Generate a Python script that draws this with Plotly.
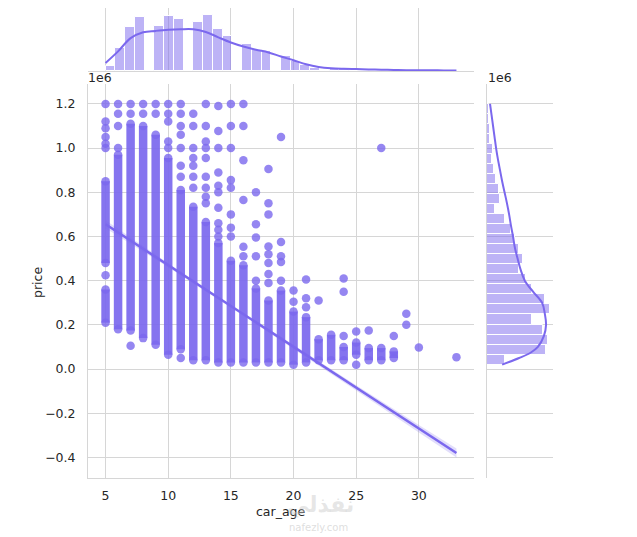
import numpy as np
import plotly.graph_objects as go

# seaborn jointplot(kind="reg") of car_age vs price

# top marginal: cars per car_age
ages = [5, 6, 7, 8, 9, 10, 11, 12, 13, 14, 15, 16, 17, 18, 19, 20, 21, 22, 23, 24,
        25, 26, 27, 28, 29, 30, 31, 32, 33]
age_counts = [20, 86, 162, 200, 168, 205, 195, 182, 208, 155, 129, 102, 79, 73, 56, 36,
              23, 13, 7, 6, 4, 3, 2, 2, 1, 1, 0, 0, 1]
# kde of car_age (scaled like the counts)
kde_age = [30, 73, 122, 144, 149, 153, 155, 155, 145, 125, 106, 91, 79, 69, 54, 40,
           25, 15, 10, 8, 7, 6, 5, 4, 3, 3, 3, 2, 2]

# right marginal: cars per price bin (26 bins between min and max price)
price_min = 20000
price_max = 1200000
price_counts = [59, 195, 201, 185, 149, 208, 191, 149, 129, 106, 119, 106, 92, 79, 59,
                26, 43, 40, 30, 23, 17, 20, 10, 10, 7, 7]
# kde of price
kde_price_x = [20000, 50000, 75000, 100000, 150000, 200000, 250000, 300000, 350000,
               400000, 450000, 500000, 550000, 600000, 650000, 700000, 750000, 800000,
               850000, 900000, 950000, 1000000, 1050000, 1100000, 1150000, 1200000]
kde_price_y = [50, 106, 145, 168, 188, 195, 191, 182, 152, 125, 111, 101, 92, 86, 79,
               73, 66, 58, 50, 43, 36, 30, 25, 20, 15, 10]

# scatter: solid runs of overlapping points in each age column
seg_age = [5, 5, 6, 7, 8, 9, 10, 11, 12, 13, 14, 15, 16, 17, 18, 19, 20, 21, 22, 23,
           24, 25, 26, 27, 28]
seg_low = [480000, 210000, 180000, 175000, 140000, 110000, 65000, 90000, 40000, 40000,
           30000, 30000, 30000, 30000, 30000, 30000, 20000, 30000, 40000, 40000,
           40000, 65000, 40000, 40000, 50000]
seg_high = [850000, 360000, 970000, 1110000, 1100000, 1060000, 955000, 810000, 735000,
            665000, 570000, 490000, 470000, 365000, 310000, 355000, 260000, 235000,
            135000, 155000, 100000, 120000, 95000, 95000, 80000]

# scatter: single points
pt_age = [5, 5, 5, 5, 5, 5, 5,
          6, 6, 6, 6,
          7, 7, 7,
          8, 8,
          9, 9,
          10, 10, 10, 10, 10,
          11, 11, 11, 11, 11, 11, 11, 11,
          12, 12, 12, 12, 12, 12, 12,
          13, 13, 13, 13, 13, 13, 13, 13, 13,
          14, 14, 14, 14, 14, 14, 14, 14, 14, 14,
          15, 15, 15, 15, 15, 15, 15, 15,
          16, 16, 16, 16, 16, 16,
          17, 17, 17, 17, 17,
          18, 18, 18, 18, 18, 18, 18, 18,
          19, 19, 19, 19, 19,
          20, 20,
          21, 21, 21,
          22,
          24, 24, 24,
          25, 25,
          26, 27, 28, 29, 29, 30, 33]
pt_price = [1200000, 1120000, 1090000, 1050000, 1020000, 1000000, 425000,
            1200000, 1155000, 1100000, 1000000,
            1200000, 1155000, 105000,
            1200000, 1155000,
            1200000, 1155000,
            1200000, 1155000, 1120000, 1030000, 1000000,
            1200000, 1155000, 1100000, 1060000, 1000000, 920000, 870000, 50000,
            1155000, 1100000, 1000000, 955000, 920000, 870000, 820000,
            1200000, 1100000, 1030000, 1000000, 955000, 870000, 820000, 780000, 750000,
            1190000, 1077000, 1000000, 890000, 830000, 800000, 730000, 660000, 630000, 600000,
            1200000, 1100000, 1000000, 855000, 820000, 700000, 640000, 600000,
            1200000, 1100000, 945000, 765000, 553000, 510000,
            800000, 655000, 595000, 510000, 400000,
            905000, 750000, 700000, 555000, 520000, 480000, 430000, 390000,
            1050000, 575000, 510000, 485000, 400000,
            355000, 305000,
            405000, 320000, 280000,
            310000,
            410000, 350000, 150000,
            170000, 20000,
            175000, 1000000, 150000, 250000, 200000, 98000, 54000]

# fitted regression line and half width of its confidence band
reg_x = [5, 10, 15, 20, 25, 30, 33]
reg_y = [655000, 470000, 285000, 100000, -85000, -270000, -380000]
reg_ci = [18000, 9000, 6000, 8000, 12000, 17000, 20000]

y_ticks = [-400000, -200000, 0, 200000, 400000, 600000, 800000, 1000000, 1200000]
y_tick_labels = ["\u22120.4", "\u22120.2", "0.0", "0.2", "0.4", "0.6", "0.8", "1.0", "1.2"]
x_ticks = [5, 10, 15, 20, 25, 30]

color = "#7B68EE"
grid = "#d6d6d6"
font = dict(family="DejaVu Sans", size=12.5, color="#262626")

# the page body has an 8px margin, so the figure starts at (8, 8) of the window
OFF = 8
W, H = 637 - OFF, 537 - OFF


def px_x(p):
    return (p - OFF) / W


def px_y(p):
    return (H - (p - OFF)) / H


fig = go.Figure()

# --- top histogram + kde
age_edges = np.linspace(5, 33, 37)
age_hist, _ = np.histogram(ages, bins=age_edges, weights=age_counts)
fig.add_trace(go.Bar(
    x=(age_edges[:-1] + age_edges[1:]) / 2, y=age_hist, width=age_edges[1] - age_edges[0],
    marker=dict(color="rgba(123,104,238,0.5)", line=dict(color="white", width=1)),
    xaxis="x2", yaxis="y2", hoverinfo="skip"))
fig.add_trace(go.Scatter(x=ages, y=kde_age, mode="lines", line=dict(color=color, width=2, shape="spline"),
                         xaxis="x2", yaxis="y2"))

# --- right histogram + kde
price_edges = np.linspace(price_min, price_max, len(price_counts) + 1)
fig.add_trace(go.Bar(
    y=(price_edges[:-1] + price_edges[1:]) / 2, x=price_counts, width=price_edges[1] - price_edges[0],
    orientation="h",
    marker=dict(color="rgba(123,104,238,0.5)", line=dict(color="white", width=1)),
    xaxis="x3", yaxis="y3", hoverinfo="skip"))
fig.add_trace(go.Scatter(x=kde_price_y, y=kde_price_x, mode="lines",
                         line=dict(color=color, width=2, shape="spline"),
                         xaxis="x3", yaxis="y3"))

# --- scatter
seg_x, seg_y = [], []
for a, lo, hi in zip(seg_age, seg_low, seg_high):
    seg_x += [a, a, None]
    seg_y += [lo, hi, None]
fig.add_trace(go.Scatter(x=seg_x, y=seg_y, mode="lines",
                         line=dict(color="rgba(123,104,238,0.92)", width=8.5)))
fig.add_trace(go.Scatter(x=seg_age + seg_age, y=seg_low + seg_high, mode="markers",
                         marker=dict(color="rgba(123,104,238,0.8)", size=8.5, line=dict(width=0))))
fig.add_trace(go.Scatter(x=pt_age, y=pt_price, mode="markers",
                         marker=dict(color="rgba(123,104,238,0.8)", size=8.5, line=dict(width=0))))

# --- regression line with ci band
ci_lo = [y - c for y, c in zip(reg_y, reg_ci)]
ci_hi = [y + c for y, c in zip(reg_y, reg_ci)]
fig.add_trace(go.Scatter(x=reg_x, y=ci_lo, mode="lines", line=dict(width=0), hoverinfo="skip"))
fig.add_trace(go.Scatter(x=reg_x, y=ci_hi, mode="lines", line=dict(width=0), fill="tonexty",
                         fillcolor="rgba(123,104,238,0.22)", hoverinfo="skip"))
fig.add_trace(go.Scatter(x=reg_x, y=reg_y, mode="lines", line=dict(color=color, width=2.5)))

# pixel boxes of the three panels (window pixels)
main_x = [px_x(88), px_x(474)]
main_y = [px_y(478), px_y(84)]
top_y = [px_y(71), 1.0]
right_x = [px_x(487), px_x(553)]

fig.update_layout(
    width=W, height=H, showlegend=False,
    margin=dict(l=0, r=0, t=0, b=0),
    paper_bgcolor="white", plot_bgcolor="white",
    font=font, bargap=0,
    xaxis=dict(domain=main_x, range=[3.6, 34.4], tickvals=x_ticks, showgrid=True, gridcolor=grid,
               zeroline=False, showline=True, linecolor=grid, ticks="", ticklabelstandoff=6,
               tickfont=font, anchor="y"),
    yaxis=dict(domain=main_y, range=[-493000, 1290000], tickvals=y_ticks, ticktext=y_tick_labels,
               showgrid=True, gridcolor=grid, zeroline=False, showline=True, linecolor=grid,
               ticks="", ticklabelstandoff=9, tickfont=font, anchor="x"),
    xaxis2=dict(domain=main_x, range=[3.6, 34.4], tickvals=x_ticks, showgrid=True, gridcolor=grid,
                zeroline=False, showline=True, linecolor=grid, showticklabels=False, ticks="",
                anchor="y2"),
    yaxis2=dict(domain=top_y, range=[0, 234], showgrid=False, zeroline=False, showline=False,
                showticklabels=False, ticks="", anchor="x2"),
    xaxis3=dict(domain=right_x, range=[0, 218], showgrid=False, zeroline=False, showline=False,
                showticklabels=False, ticks="", anchor="y3"),
    yaxis3=dict(domain=main_y, range=[-493000, 1290000], tickvals=y_ticks, showgrid=True,
                gridcolor=grid, zeroline=False, showline=True, linecolor=grid,
                showticklabels=False, ticks="", anchor="x3"),
)

# labels, offset texts and the site watermark
fig.add_annotation(text="1e6", x=px_x(86), y=px_y(77), xref="paper", yref="paper",
                   xanchor="left", yanchor="middle", showarrow=False, font=font)
fig.add_annotation(text="1e6", x=px_x(486), y=px_y(77), xref="paper", yref="paper",
                   xanchor="left", yanchor="middle", showarrow=False, font=font)
fig.add_annotation(text="price", x=px_x(37), y=px_y(283), xref="paper", yref="paper",
                   textangle=-90, xanchor="center", yanchor="middle", showarrow=False, font=font)
fig.add_annotation(text="car_age", x=px_x(281), y=px_y(511), xref="paper", yref="paper",
                   xanchor="center", yanchor="middle", showarrow=False, font=font)
fig.add_annotation(text="<b>نفذلي</b>", x=px_x(320), y=px_y(505), xref="paper", yref="paper",
                   xanchor="center", yanchor="middle", showarrow=False,
                   font=dict(family="DejaVu Sans", size=22, color="rgba(200,200,200,0.45)"))
fig.add_annotation(text="nafezly.com", x=px_x(318), y=px_y(527), xref="paper", yref="paper",
                   xanchor="center", yanchor="middle", showarrow=False,
                   font=dict(family="DejaVu Sans", size=10, color="rgba(200,200,200,0.6)"))

fig.write_html("out.html")
